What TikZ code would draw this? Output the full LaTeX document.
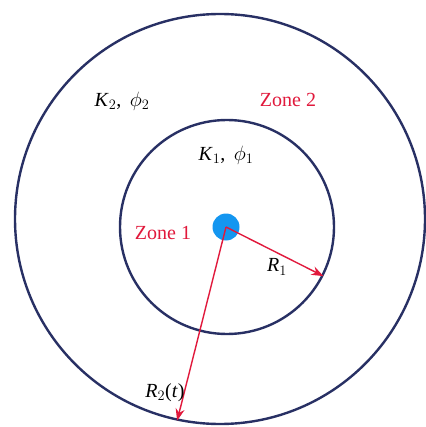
\documentclass[tikz,border=0pt]{standalone}
\usepackage{fontspec}
\setmainfont{Liberation Serif}
\usetikzlibrary{arrows.meta}
\definecolor{navy}{RGB}{40,48,100}
\definecolor{zred}{RGB}{225,25,60}
\definecolor{dotblue}{RGB}{20,150,240}
\tikzset{
  zonecircle/.style={circle, draw=navy, line width=2.4pt, inner sep=0pt},
  radarrow/.style={draw=zred, line width=1.4pt, -{Stealth[length=12pt,width=9pt]}},
  lbl/.style={font=\fontsize{20}{23}\selectfont, inner sep=0pt},
  zonelbl/.style={lbl, text=zred}
}
\begin{document}
\begin{tikzpicture}[x=1pt,y=-1pt]
\useasboundingbox (0,0) rectangle (425,427);
\fill[white] (0,0) rectangle (425,427);
\node[zonecircle, minimum size=410pt] (outer) at (220,219) {};
\node[zonecircle, minimum size=214pt] (inner) at (227,227) {};
\node[circle, fill=dotblue, minimum size=27pt, inner sep=0pt] (well) at (226,227) {};
\draw[radarrow] (well.center) -- (inner.-27.8);
\draw[radarrow] (well.center) -- (outer.258.9);
\node[lbl] (k2) at (122,101) {\textit{K}$_2$,\, $\phi_2$};
\node[zonelbl] (z2) at (288,100) {Zone 2};
\node[lbl] (k1) at (226,155) {\textit{K}$_1$,\, $\phi_1$};
\node[zonelbl] (z1) at (163,233) {Zone 1};
\node[lbl] (r1) at (277,267) {\textit{R}$_1$};
\node[lbl] (r2) at (165,393) {\textit{R}$_2$(\textit{t})};
\end{tikzpicture}
\end{document}
